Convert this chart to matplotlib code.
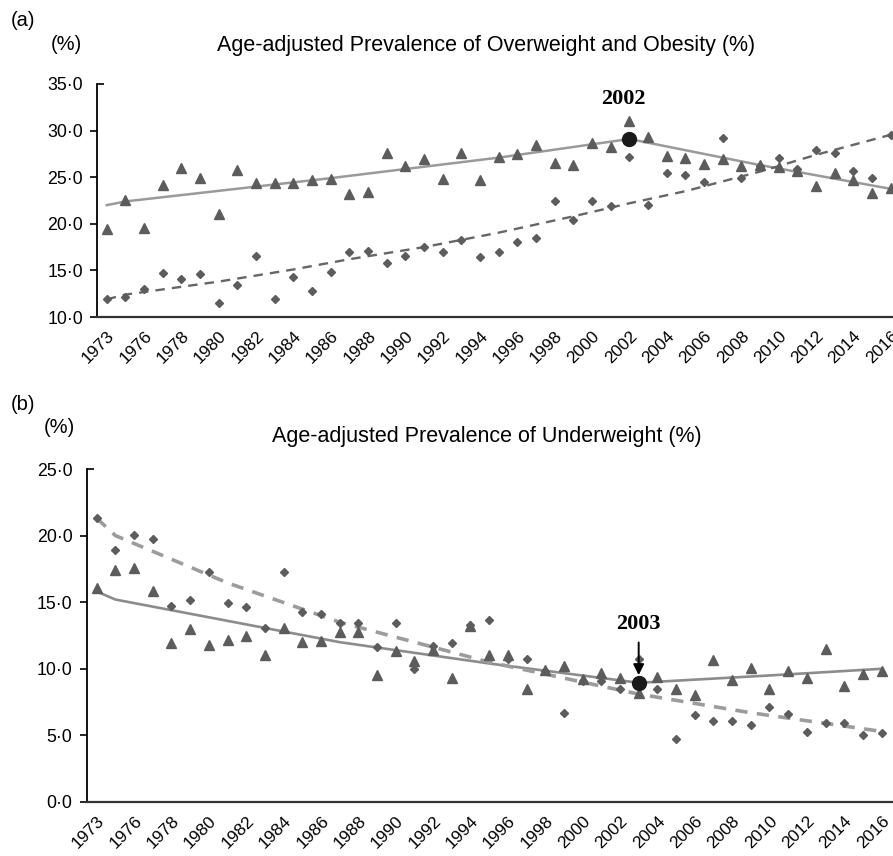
import matplotlib
matplotlib.use("Agg")
import matplotlib.pyplot as plt
import matplotlib.lines as mlines
import numpy as np

plt.rcParams['font.family'] = ['Liberation Sans', 'DejaVu Sans']

# survey years (1974 missing) -> categorical x axis
years = [1973, 1975, 1976, 1977, 1978, 1979, 1980, 1981, 1982, 1983, 1984,
         1985, 1986, 1987, 1988, 1989, 1990, 1991, 1992, 1993, 1994, 1995,
         1996, 1997, 1998, 1999, 2000, 2001, 2002, 2003, 2004, 2005, 2006,
         2007, 2008, 2009, 2010, 2011, 2012, 2013, 2014, 2015, 2016]

# (a) overweight and obesity
ow_tri = [19.4, 22.6, 19.6, 24.2, 26.0, 24.9, 21.0, 25.8, 24.4, 24.4, 24.4,
          24.75, 24.8, 23.2, 23.4, 27.6, 26.2, 26.9, 24.8, 27.55, 24.7, 27.15,
          27.5, 28.5, 26.55, 26.35, 28.65, 28.25, 31.05, 29.35, 27.3, 27.05, 26.45,
          26.9, 26.25, 26.3, 26.1, 25.7, 24.05, 25.45, 24.7, 23.35, 23.85]
ow_dia = [11.9, 12.15, 13.0, 14.7, 14.1, 14.6, 11.55, 13.4, 16.5, 11.9, 14.25,
          12.8, 14.85, 16.95, 17.1, 15.8, 16.55, 17.5, 17.0, 18.25, 16.4, 16.95,
          18.0, 18.45, 22.4, 20.45, 22.45, 21.95, 27.2, 22.0, 25.4, 25.2, 24.45,
          29.2, 24.9, 26.2, 27.05, 25.9, 27.95, 27.55, 25.7, 24.95, 29.55]
ow_tri_trend_yr = [1973, 1975, 1986, 1995, 2002, 2009, 2016]
ow_tri_trend = [22.0, 22.4, 24.9, 27.1, 29.1, 26.3, 23.75]
ow_dia_trend_yr = [1973, 1975, 1980, 1984, 1987, 1991, 1995, 1999, 2002, 2005, 2009, 2012, 2016]
ow_dia_trend = [11.9, 12.4, 13.8, 15.1, 16.2, 17.5, 19.05, 20.8, 22.2, 23.5, 25.6, 27.4, 29.55]
ow_joinpoint = 2002

# (b) underweight
uw_tri = [16.1, 17.4, 17.6, 15.85, 11.95, 13.0, 11.8, 12.15, 12.45, 11.05, 13.05,
          12.0, 12.1, 12.8, 12.8, 9.5, 11.3, 10.6, 11.4, 9.3, 13.2, 11.0,
          11.0, 8.45, 9.9, 10.2, 9.2, 9.65, 9.3, 8.15, 9.35, 8.45, 8.05,
          10.65, 9.15, 10.05, 8.45, 9.8, 9.3, 11.5, 8.7, 9.6, 9.8]
uw_dia = [21.35, 18.95, 20.05, 19.75, 14.7, 15.2, 17.3, 14.95, 14.65, 13.1, 17.3,
          14.25, 14.15, 13.45, 13.45, 11.6, 13.45, 10.0, 11.7, 11.95, 13.3, 13.7,
          10.7, 10.7, 9.8, 6.7, 9.1, 9.1, 8.45, 10.7, 8.45, 4.75, 6.55,
          6.1, 6.05, 5.8, 7.1, 6.6, 5.25, 5.9, 5.9, 5.05, 5.2]
uw_tri_trend_yr = [1973, 1975, 1987, 1995, 2003, 2010, 2016]
uw_tri_trend = [15.8, 15.2, 12.0, 10.4, 8.95, 9.5, 10.0]
uw_dia_trend_yr = [1973, 1975, 1981, 1987, 1995, 2003, 2009, 2016]
uw_dia_trend = [21.3, 20.0, 16.45, 13.5, 10.5, 8.1, 6.7, 5.3]
uw_joinpoint = 2003

W, H = 893, 856
MARK = '#5c5c5c'


def pos(yrs):
    return [years.index(y) for y in yrs]


def style_axis(ax, yticks):
    ax.spines['top'].set_visible(False)
    ax.spines['right'].set_visible(False)
    ax.spines['left'].set_linewidth(1.3)
    ax.spines['bottom'].set_linewidth(1.6)
    ax.spines['bottom'].set_color('#333333')
    ax.set_yticks(yticks)
    ax.set_yticklabels([f'{v:.1f}'.replace('.', '\u00b7') for v in yticks])
    ax.tick_params(axis='y', length=5.3, width=1.2, labelsize=12.8, pad=5)
    xt = list(range(0, len(years), 2))
    ax.set_xticks(xt)
    ax.set_xticklabels([str(years[i]) for i in xt], rotation=45, ha='right',
                       rotation_mode='anchor')
    ax.tick_params(axis='x', length=0, labelsize=12.4, pad=8)
    # the top tick points into the plot, like a cap on the axis
    ax.yaxis.get_major_ticks()[-1].tick1line.set_marker(mlines.TICKRIGHT)


x = np.arange(len(years))
fig = plt.figure(figsize=(W / 100, H / 100), dpi=100)

# ---------- (a)
ax1 = fig.add_axes([97.4 / W, 1 - 317 / H, 797 / W, (317 - 84) / H])
ax1.plot(pos(ow_tri_trend_yr), ow_tri_trend, color='#9a9a9a', lw=1.8, zorder=2)
ax1.plot(pos(ow_dia_trend_yr), ow_dia_trend, color='#666666', lw=1.7,
         dashes=(4, 3), zorder=2)
ax1.plot(x, ow_tri, ls='none', marker='^', ms=7.2, color=MARK, zorder=3)
ax1.plot(x, ow_dia, ls='none', marker='D', ms=4.3, color=MARK, zorder=3)
jx = years.index(ow_joinpoint)
jy = ow_tri_trend[ow_tri_trend_yr.index(ow_joinpoint)]
ax1.plot([jx], [jy], marker='o', ms=10, color='#1a1a1a', zorder=4)
ax1.annotate(str(ow_joinpoint), xy=(jx, jy), xytext=(-4, 28.5),
             textcoords='offset points', ha='center', va='center',
             fontsize=16, fontweight='bold', family='Liberation Serif')
ax1.set_xlim(-0.5, 42.2)
ax1.set_ylim(10, 35)
style_axis(ax1, [10, 15, 20, 25, 30, 35])

# ---------- (b)
ax2 = fig.add_axes([86.7 / W, 1 - 802 / H, 808 / W, (802 - 469) / H])
ax2.plot(pos(uw_tri_trend_yr), uw_tri_trend, color='#8c8c8c', lw=1.9, zorder=2)
ax2.plot(pos(uw_dia_trend_yr), uw_dia_trend, color='#9c9c9c', lw=2.6,
         dashes=(3.4, 2.6), zorder=2)
ax2.plot(x, uw_tri, ls='none', marker='^', ms=7.2, color=MARK, zorder=3)
ax2.plot(x, uw_dia, ls='none', marker='D', ms=4.3, color=MARK, zorder=3)
jx = years.index(uw_joinpoint)
jy = uw_tri_trend[uw_tri_trend_yr.index(uw_joinpoint)]
ax2.plot([jx], [jy], marker='o', ms=10, color='#1a1a1a', zorder=4)
ax2.annotate('', xy=(jx, jy), xytext=(0, 29), textcoords='offset points',
             arrowprops=dict(arrowstyle='-|>', color='black', lw=1.4,
                             mutation_scale=16, shrinkA=0, shrinkB=5.5),
             zorder=5)
ax2.annotate(str(uw_joinpoint), xy=(jx, jy), xytext=(0, 42),
             textcoords='offset points', ha='center', va='center',
             fontsize=16, fontweight='bold', family='Liberation Serif')
ax2.set_xlim(-0.536, 42.7)
ax2.set_ylim(0, 25)
style_axis(ax2, [0, 5, 10, 15, 20, 25])


# ---------- labels
def ftext(px, py, s, **kw):
    fig.text(px / W, 1 - py / H, s, ha='center', va='center', **kw)


ftext(23.5, 21, '(a)', fontsize=14.5)
ftext(66, 45, '(%)', fontsize=14.5)
ftext(486, 45, 'Age-adjusted Prevalence of Overweight and Obesity (%)', fontsize=15.5)
ftext(23.5, 404, '(b)', fontsize=14.5)
ftext(59, 427, '(%)', fontsize=14.5)
ftext(487, 437, 'Age-adjusted Prevalence of Underweight (%)', fontsize=15.5)

fig.savefig('out.png', dpi=100)
